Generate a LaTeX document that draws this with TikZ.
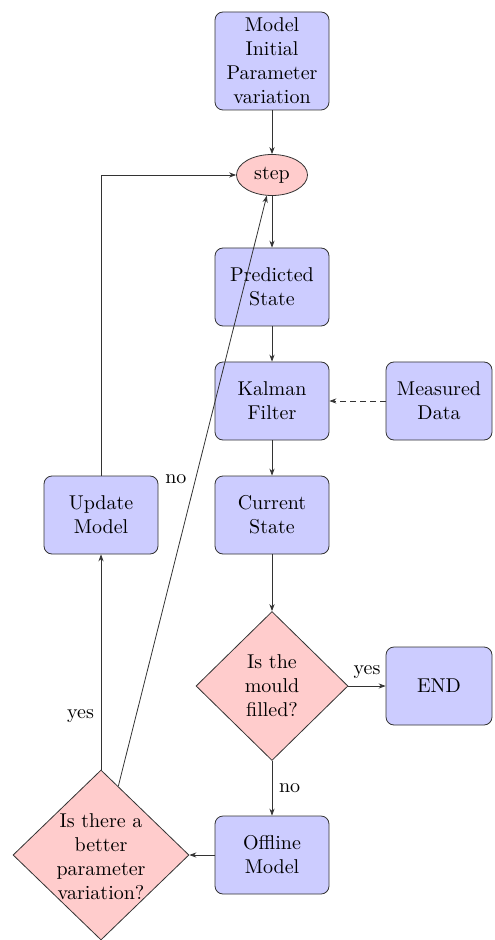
\documentclass[tikz,border=0pt]{standalone}
\usetikzlibrary{shapes.geometric,arrows.meta}
\begin{document}
\begin{tikzpicture}[x=0.5pt,y=-0.5pt,
 box/.style={draw=black!80, fill=blue!20, rounded corners=4pt, minimum width=57pt, minimum height=39pt, align=center, inner sep=1pt},
 dia/.style={draw=black!80, fill=red!20, diamond, inner sep=0pt},
 ell/.style={draw=black!80, fill=red!20, ellipse, minimum width=35.5pt, minimum height=20.5pt, inner sep=0pt},
 arr/.style={draw=black!80, -{Stealth[length=3.5pt,width=2.6pt]}}]
\useasboundingbox (0,0) rectangle (494,940);
\node[box, minimum height=49pt] (mip) at (272,61) {Model\\Initial\\Parameter\\variation};
\node[ell] (stp) at (272,175) {step};
\node[box] (pred) at (272,287) {Predicted\\State};
\node[box] (kal) at (272,401) {Kalman\\Filter};
\node[box, minimum width=53pt] (meas) at (439,401) {Measured\\Data};
\node[box] (cur) at (272,515) {Current\\State};
\node[dia, minimum width=76pt, minimum height=74.5pt] (d1) at (272,686) {};
\node[align=center, inner sep=0pt] (d1t) at (272,686) {Is the\\mould\\filled?};
\node[box, minimum width=53pt] (endn) at (439,686) {END};
\node[box] (off) at (272,855) {Offline\\Model};
\node[dia, minimum width=88pt, minimum height=85pt] (d2) at (101,855) {};
\node[align=center, inner sep=0pt] (d2t) at (101,857) {Is there a\\better\\parameter\\variation?};
\node[box] (upd) at (101,515) {Update\\Model};

\draw[arr] (mip) -- (stp);
\draw[arr] (stp) -- (pred);
\draw[arr] (pred) -- (kal);
\draw[arr, densely dashed] (meas) -- (kal);
\draw[arr] (kal) -- (cur);
\draw[arr] (cur) -- (d1);
\draw[arr] (d1) -- node[above] {yes} (endn);
\draw[arr] (d1) -- node[right] {no} (off);
\draw[arr] (off) -- (d2);
\draw[arr] (d2) -- node[pos=0.25, left] {yes} (upd);
\draw[arr] (upd.north) |- (stp.west);
\draw[arr] (d2) -- node[pos=0.52, left=1pt] {no} (stp);
\end{tikzpicture}
\end{document}
